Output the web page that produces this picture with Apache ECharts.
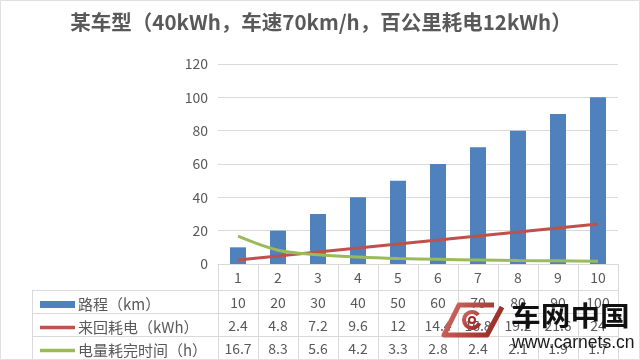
<!DOCTYPE html>
<html><head><meta charset="utf-8">
<script src="https://cdn.jsdelivr.net/npm/echarts@6/dist/echarts.min.js"></script>
<style>html,body{margin:0;padding:0;background:#fff}#c{width:640px;height:360px}</style>
</head><body><div id="c"></div>
<script>
const titleText = '某车型（40kWh，车速70km/h，百公里耗电12kWh）';
const categories = ['1','2','3','4','5','6','7','8','9','10'];
const distanceKm = [10,20,30,40,50,60,70,80,90,100];
const roundTripKWh = [2.4,4.8,7.2,9.6,12,14.4,16.8,19.2,21.6,24];
const hoursToEmpty = [16.7,8.3,5.6,4.2,3.3,2.8,2.4,2.1,1.9,1.7];
const seriesNames = ['路程（km）','来回耗电（kWh）','电量耗完时间（h）'];
const yMin = 0, yMax = 120, yStep = 20;

const FONT = '"Noto Sans CJK SC","Microsoft YaHei",sans-serif';
const TXT = '#595959';
const GRIDC = '#d9d9d9';
const chart = echarts.init(document.getElementById('c'));

const rowH0 = 26, rowH = 23;
const lineIcon = 'path://M0,0L40,0L40,4L0,4Z';
const legendBase = {
  orient: 'vertical', left: 35, itemWidth: 35, itemGap: 0,
  textStyle: {fontFamily: FONT, fontSize: 15, color: TXT, padding: [0,0,0,-2]},
  selectedMode: false
};

chart.setOption({
  animation: false,
  backgroundColor: '#fff',
  title: {
    text: titleText, left: 316, textAlign: 'center', top: 7,
    textStyle: {fontFamily: FONT, fontSize: 20.5, fontWeight: 'bold', color: TXT}
  },
  legend: [
    Object.assign({}, legendBase, {top: 292, data: [{name: seriesNames[0], icon: 'rect'}], itemHeight: 7}),
    Object.assign({}, legendBase, {top: 315, data: [{name: seriesNames[1], icon: lineIcon}], itemHeight: 4}),
    Object.assign({}, legendBase, {top: 338, data: [{name: seriesNames[2], icon: lineIcon}], itemHeight: 4})
  ],
  grid: {left: 218, right: 22, top: 64, bottom: 96, containLabel: false},
  xAxis: {
    type: 'category', data: categories, boundaryGap: true,
    axisLine: {lineStyle: {color: GRIDC}},
    axisTick: {show: true, length: 96, lineStyle: {color: GRIDC}},
    axisLabel: {
      margin: 1, interval: 0,
      formatter: (v, i) => `{a|${v}}\n{b|${distanceKm[i]}}\n{b|${roundTripKWh[i]}}\n{b|${hoursToEmpty[i]}}`,
      rich: {
        a: {fontFamily: FONT, fontSize: 14, color: TXT, lineHeight: rowH0},
        b: {fontFamily: FONT, fontSize: 14, color: TXT, lineHeight: rowH}
      }
    }
  },
  yAxis: {
    type: 'value', min: yMin, max: yMax, interval: yStep,
    axisLine: {show: false}, axisTick: {show: false},
    axisLabel: {fontFamily: FONT, fontSize: 14, color: TXT, margin: 10},
    splitLine: {lineStyle: {color: GRIDC}}
  },
  series: [
    {name: seriesNames[0], type: 'bar', data: distanceKm, barWidth: 16,
     itemStyle: {color: '#4f81bd'}, z: 2},
    {name: seriesNames[1], type: 'line', data: roundTripKWh, symbol: 'none',
     lineStyle: {color: '#c0504d', width: 3}, itemStyle: {color: '#c0504d'}, z: 3},
    {name: seriesNames[2], type: 'line', data: hoursToEmpty, symbol: 'none', smooth: 0.35,
     lineStyle: {color: '#9bbb59', width: 3}, itemStyle: {color: '#9bbb59'}, z: 4}
  ]
});

// table borders derived from the axes
const c0 = chart.convertToPixel({xAxisIndex: 0}, categories[0]);
const c1 = chart.convertToPixel({xAxisIndex: 0}, categories[1]);
const cN = chart.convertToPixel({xAxisIndex: 0}, categories[categories.length - 1]);
const band = c1 - c0;
const xRight = cN + band / 2;
const xTableLeft = 32;
const y0 = chart.convertToPixel({yAxisIndex: 0}, 0);
const r1 = y0 + rowH0, r2 = r1 + rowH, r3 = r2 + rowH;
const ls = {stroke: GRIDC, lineWidth: 1};
const g = [];
[r1, r2, r3].forEach(y => g.push({type: 'line', shape: {x1: xTableLeft, y1: Math.round(y)+0.5, x2: xRight, y2: Math.round(y)+0.5}, style: ls, silent: true}));
g.push({type: 'line', shape: {x1: xTableLeft+0.5, y1: r1, x2: xTableLeft+0.5, y2: 360}, style: ls, silent: true});
// watermark logo
const red = new echarts.graphic.LinearGradient(0, 0, 1, 1, [{offset: 0, color: '#d9706a'}, {offset: 1, color: '#8e1f1c'}]);
g.push({type: 'polyline', shape: {points: [[494,305],[459,305],[444,335],[487,335],[502,307]]},
  style: {fill: 'none', stroke: red, lineWidth: 5, lineJoin: 'round'}, z: 100});
g.push({type: 'arc', shape: {cx: 472, cy: 320, r: 8, startAngle: 0.4, endAngle: 5.6}, style: {fill: 'none', stroke: red, lineWidth: 4}, z: 100});
g.push({type: 'circle', shape: {cx: 472, cy: 320, r: 3}, style: {fill: 'none', stroke: '#a02a26', lineWidth: 2}, z: 100});
g.push({type: 'text', x: 511, y: 302, scaleX: 1.1, style: {text: '车网中国', fontFamily: FONT, fontSize: 27, fill: '#111', fontWeight: 'bold'}, z: 100});
g.push({type: 'text', x: 512, y: 334, style: {text: 'www.carnets.cn', fontFamily: '"Liberation Sans",Arial,sans-serif', fontSize: 17.5, fill: '#1a1a1a'}, z: 100});
g.push({type: 'rect', shape: {x: 0.5, y: 0.5, width: 639, height: 359}, style: {fill: 'none', stroke: '#e0e0e0'}, silent: true});
chart.setOption({graphic: g});
</script></body></html>
